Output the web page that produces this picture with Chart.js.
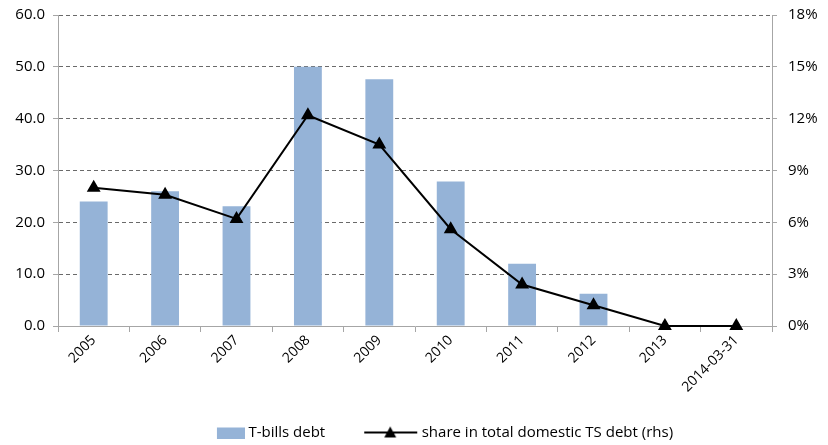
<!DOCTYPE html>
<html>
<head>
<meta charset="utf-8">
<script src="https://cdn.jsdelivr.net/npm/chart.js@4"></script>
<style>
  html, body { margin: 0; padding: 0; background: #fff; }
  #wrap { width: 828px; height: 445px; }
</style>
</head>
<body>
<div id="wrap"><canvas id="chart" width="828" height="445"></canvas></div>
<script>
var labels = ["2005", "2006", "2007", "2008", "2009", "2010", "2011", "2012", "2013", "2014-03-31"];
var billsDebt = [24.0, 26.0, 23.1, 50.0, 47.6, 27.9, 12.0, 6.2, 0, 0];
var shareTotal = [8.0, 7.6, 6.2, 12.2, 10.5, 5.6, 2.4, 1.2, 0, 0];
var leftTicks = [0, 10, 20, 30, 40, 50, 60];
var rightTicks = [0, 3, 6, 9, 12, 15, 18];

var barColor = '#95b3d7';
var gridColor = '#6a6a6a';
var axisColor = '#a6a6a6';
var fontFamily = "'Open Sans', 'Liberation Sans', sans-serif";

// legend swatches (wider than the box so the gap before the text stays small)
var lead = 34;
function barSwatch() {
    var c = document.createElement('canvas');
    c.width = lead + 58; c.height = 12;
    var g = c.getContext('2d');
    g.fillStyle = barColor;
    g.fillRect(lead + 30, 1, 28, 11);
    return c;
}
function lineSwatch() {
    var c = document.createElement('canvas');
    c.width = lead + 58; c.height = 14;
    var g = c.getContext('2d');
    g.strokeStyle = '#000';
    g.lineWidth = 2;
    g.beginPath(); g.moveTo(lead + 4, 7); g.lineTo(lead + 57, 7); g.stroke();
    g.fillStyle = '#000';
    var cx = lead + 30;
    g.beginPath(); g.moveTo(cx, 1); g.lineTo(cx + 6, 12); g.lineTo(cx - 6, 12); g.closePath(); g.fill();
    return c;
}
var swatches = [barSwatch(), lineSwatch()];

// fixed axis sizes, no extra label padding at top/bottom
function fixWidth(w) {
    return function (s) { s.width = w; s.paddingTop = 0; s.paddingBottom = 0; };
}

var ctx = document.getElementById('chart').getContext('2d');
var myChart = new Chart(ctx, {
    data: {
        labels: labels,
        datasets: [
            {
                type: 'line',
                label: 'share in total domestic TS debt (rhs)',
                data: shareTotal,
                yAxisID: 'y1',
                borderColor: '#000',
                backgroundColor: '#000',
                borderWidth: 2,
                pointStyle: 'triangle',
                pointRadius: 6,
                pointHoverRadius: 6,
                tension: 0,
                clip: false,
                order: 0
            },
            {
                type: 'bar',
                label: 'T-bills debt',
                data: billsDebt,
                yAxisID: 'y',
                backgroundColor: barColor,
                categoryPercentage: 1,
                barPercentage: 0.39,
                order: 1
            }
        ]
    },
    options: {
        responsive: false,
        animation: false,
        layout: { padding: { top: 15, bottom: -5, left: 0, right: 0 } },
        plugins: {
            tooltip: { enabled: false },
            legend: {
                position: 'bottom',
                fullSize: false,
                reverse: true,
                labels: {
                    usePointStyle: true,
                    pointStyleWidth: lead + 50,
                    boxHeight: 12,
                    padding: 5,
                    color: '#000',
                    font: { family: fontFamily, size: 15 },
                    generateLabels: function (chart) {
                        return chart.data.datasets.map(function (ds, i) {
                            return {
                                text: ds.label,
                                pointStyle: swatches[ds.type === 'bar' ? 0 : 1],
                                fillStyle: 'transparent',
                                strokeStyle: 'transparent',
                                lineWidth: 0,
                                datasetIndex: i
                            };
                        });
                    }
                }
            }
        },
        scales: {
            x: {
                offset: true,
                grid: { offset: true, drawOnChartArea: false, color: axisColor, tickLength: 6 },
                border: { color: axisColor, width: 1 },
                ticks: {
                    color: '#000',
                    minRotation: 45,
                    maxRotation: 45,
                    padding: 0,
                    font: { family: fontFamily, size: 14 }
                },
                afterFit: function (s) { s.height = 94; }
            },
            y: {
                position: 'left',
                min: 0,
                max: 60,
                afterBuildTicks: function (s) { s.ticks = leftTicks.map(function (v) { return { value: v }; }); },
                grid: {
                    color: function (c) { return c.tick && c.tick.value === 0 ? 'rgba(0,0,0,0)' : gridColor; },
                    tickColor: axisColor,
                    tickLength: 5
                },
                border: { color: axisColor, width: 1, dash: [4, 3] },
                ticks: {
                    color: '#000',
                    padding: 8,
                    font: { family: fontFamily, size: 15 },
                    callback: function (v) { return v.toFixed(1); }
                },
                afterFit: fixWidth(58)
            },
            y1: {
                position: 'right',
                min: 0,
                max: 18,
                afterBuildTicks: function (s) { s.ticks = rightTicks.map(function (v) { return { value: v }; }); },
                grid: { drawOnChartArea: false, color: axisColor, tickLength: 5 },
                border: { color: axisColor, width: 1 },
                ticks: {
                    color: '#000',
                    padding: 11,
                    font: { family: fontFamily, size: 15 },
                    callback: function (v) { return v + '%'; }
                },
                afterFit: fixWidth(56)
            }
        }
    }
});
</script>
</body>
</html>
